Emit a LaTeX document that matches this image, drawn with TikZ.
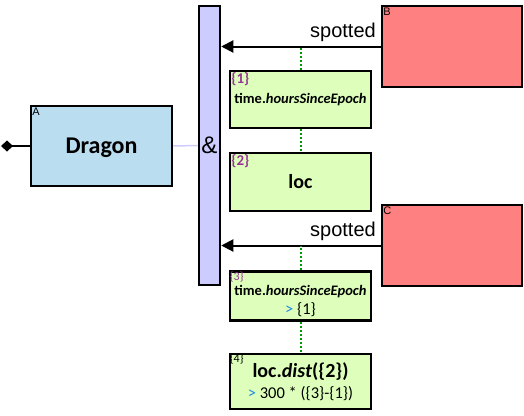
\documentclass[tikz,border=0pt]{standalone}
\usepackage{fontspec}
\setmainfont{Carlito}
\newfontfamily\arialfont{Liberation Sans}
\usetikzlibrary{arrows.meta,positioning,calc}

\definecolor{entityblue}{HTML}{BBDDF0}
\definecolor{joinlilac}{HTML}{CCCCFF}
\definecolor{sourcered}{HTML}{FF8080}
\definecolor{stepgreen}{HTML}{DDFFBB}
\definecolor{tagpurple}{HTML}{993399}
\definecolor{opblue}{HTML}{1E88E5}
\definecolor{seqgreen}{HTML}{009900}
\newcommand\exprfont{\fontsize{14.5}{17}\selectfont\bfseries}

\begin{document}
\begin{tikzpicture}[x=1pt,y=-1pt,
  block/.style={draw,line width=2.5pt,inner sep=2pt,align=center},
  entity/.style={block,fill=entityblue,minimum width=141pt,minimum height=80pt,
    text depth=0pt,font=\fontsize{24}{28}\selectfont\bfseries},
  joinbar/.style={block,fill=joinlilac,minimum width=21pt,minimum height=279pt,
    font=\arialfont\fontsize{24}{28}\selectfont},
  source/.style={block,fill=sourcered,minimum width=140pt,minimum height=81pt},
  stepbox/.style={block,fill=stepgreen,minimum width=141pt},
  cornertag/.style={anchor=north west,inner sep=2.5pt,
    font=\arialfont\fontsize{11}{12}\selectfont},
  reftag/.style={anchor=north west,inner sep=2.5pt,text=tagpurple,
    font=\fontsize{14}{15}\selectfont},
  flow/.style={-{Triangle[length=12pt,width=12pt]},line width=2pt},
  seq/.style={seqgreen,line width=2pt,dash pattern=on 2pt off 2pt},
  tie/.style={joinlilac,line width=1.5pt},
  relname/.style={font=\arialfont\fontsize{20}{22}\selectfont,inner sep=4pt}
]
\useasboundingbox (0,0) rectangle (524,415);

% Dragon entity and the join bar
\node[entity,label={[cornertag]north west:A}] (dragon) at (101.5,146) {Dragon};
\node[joinbar] (bar) at (209.5,145.5) {\&};
\coordinate (entry) at (1,146);
\draw[{Diamond[length=12pt,width=11pt]}-,line width=2pt] (entry) -- (dragon.west);
\draw[tie] (dragon.east) -- (bar.west);

% Spotted sources
\node[source,label={[cornertag]north west:B}] (srcB) at (452,46.5) {};
\node[source,label={[cornertag]north west:C}] (srcC) at (452,245.5) {};
\draw[flow] (srcB.west) -- (srcB.west -| bar.east)
  node[pos=0,above left,relname] {spotted};
\draw[flow] (srcC.west) -- (srcC.west -| bar.east)
  node[pos=0,above left,relname] {spotted};

% Steps
\node[stepbox,minimum height=57pt,font=\exprfont,
  label={[reftag,font=\fontsize{15}{16}\selectfont\bfseries]north west:\{1\}}]
  (step1) at (300.5,99.5) {time.\textit{hoursSinceEpoch}};
\node[stepbox,minimum height=58pt,font=\fontsize{20}{24}\selectfont\bfseries,
  label={[reftag,font=\fontsize{15}{16}\selectfont\bfseries]north west:\{2\}}]
  (step2) at (300.5,182) {loc};
\node[stepbox,minimum height=49pt,font=\fontsize{16.5}{19}\selectfont,
  label={[reftag,inner sep=1pt,font=\fontsize{12}{13}\selectfont]north west:\{3\}}]
  (step3) at (300.5,296)
  {\rule{0pt}{21pt}{\exprfont time.\textit{hoursSinceEpoch}}\\
   \textcolor{opblue}{>} \{1\}};
\node[stepbox,minimum height=55pt,font=\fontsize{16.5}{21}\selectfont,
  label={[reftag,text=black,inner sep=1pt,font=\fontsize{12}{13}\selectfont]north west:\{4\}}]
  (step4) at (300.5,381.5)
  {{\fontsize{20}{22}\selectfont\bfseries loc.\textit{dist}(\{2\})}\\
   \textcolor{opblue}{>} 300 * (\{3\}-\{1\})};

\draw[seq] (step1.north) -- (step1.north |- srcB.west);
\draw[seq] (step1.south) -- (step2.north);
\draw[seq] (step3.north) -- (step3.north |- srcC.west);
\draw[seq] (step3.south) -- (step4.north);
\end{tikzpicture}
\end{document}
